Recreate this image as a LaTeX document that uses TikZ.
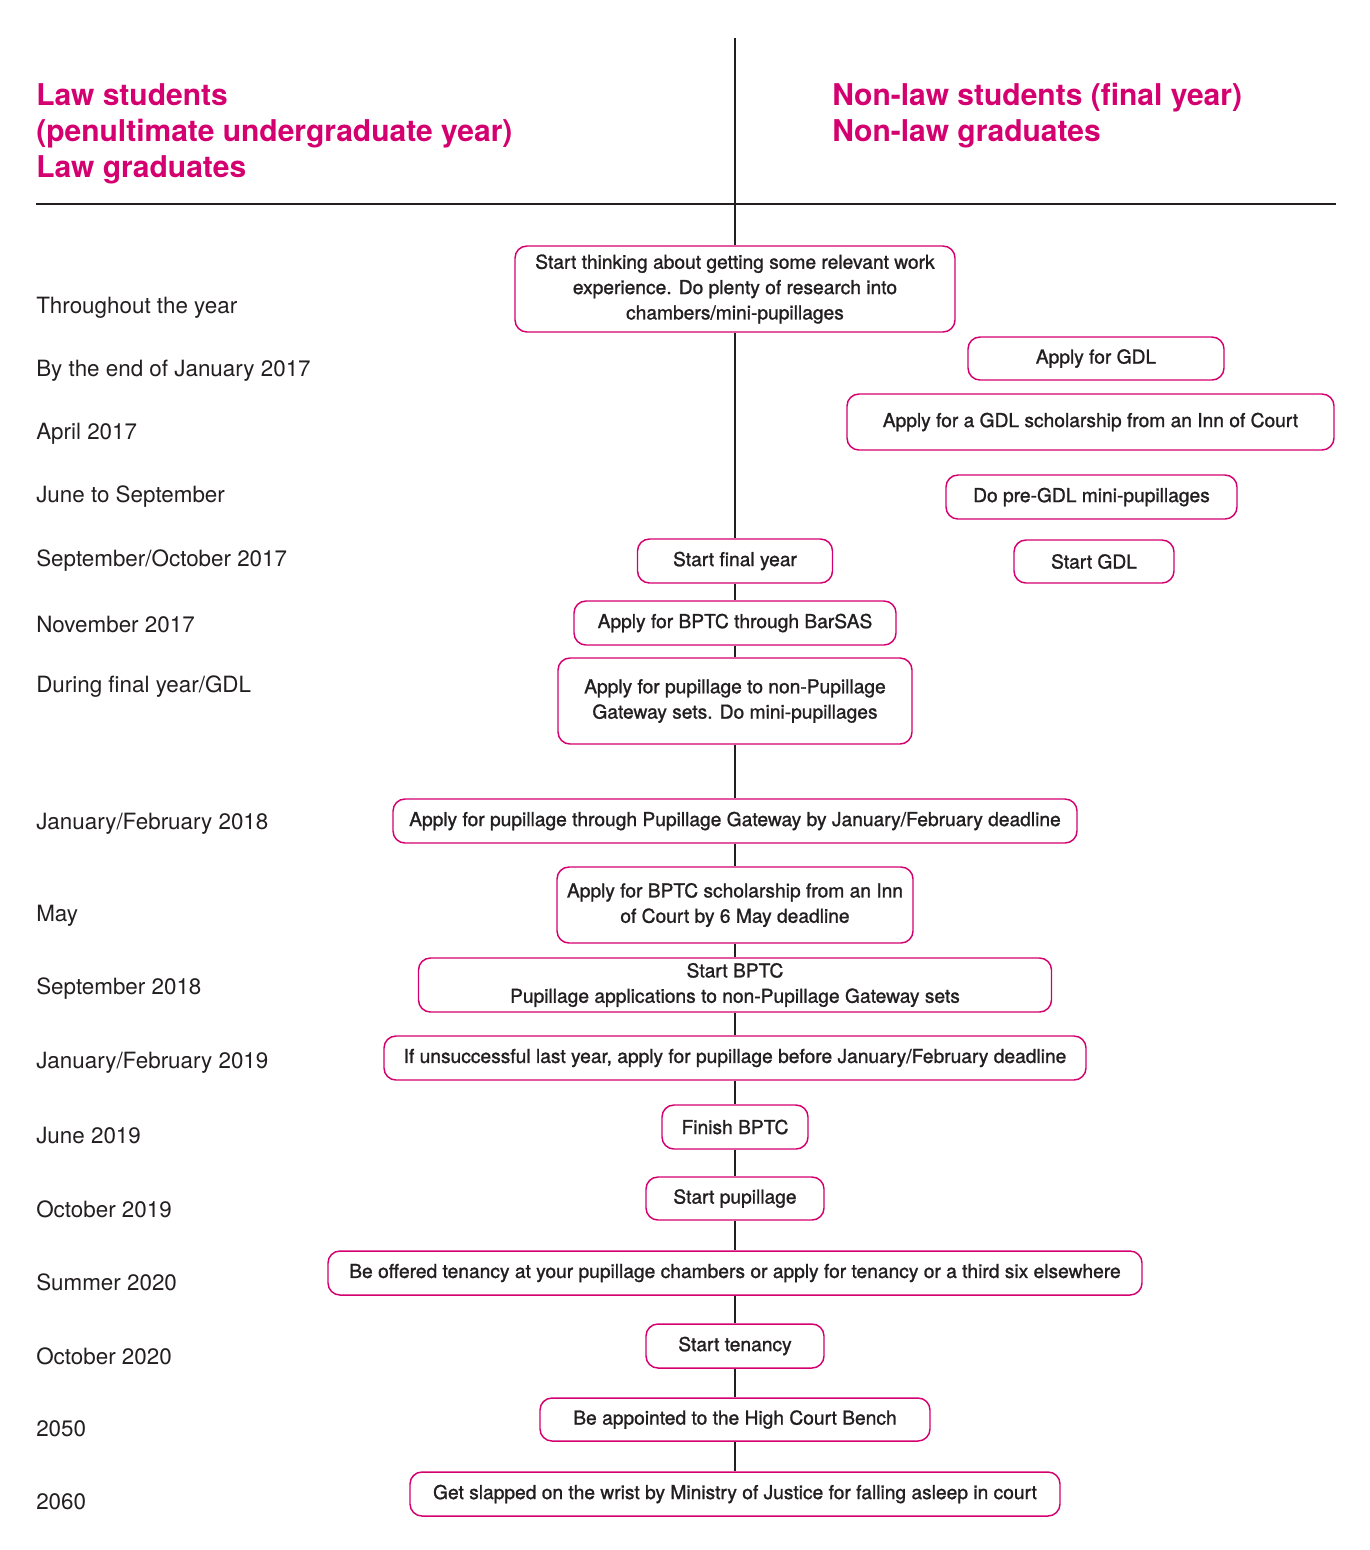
\documentclass[tikz,border=0pt]{standalone}
\usepackage{fontspec}
\setmainfont{TeX Gyre Heros}
\newfontface\boxface{TeX Gyre Heros}[FakeBold=1.2]
\definecolor{lawpink}{RGB}{212,0,112}
\definecolor{inkgrey}{RGB}{35,31,32}
\tikzset{
  stepbox/.style={draw=lawpink, line width=1.1pt, rounded corners=9pt, fill=white,
    align=center, inner sep=0pt, text=inkgrey, font=\boxface\fontsize{14.4}{19}\selectfont},
  yearlabel/.style={anchor=west, inner sep=0pt, text=inkgrey, font=\fontsize{16.8}{20}\selectfont},
  headline/.style={anchor=west, align=left, inner sep=0pt, text=lawpink,
    font=\fontsize{22.5}{27}\selectfont\bfseries},
  spine/.style={draw=inkgrey, line width=0.9pt},
}
\begin{document}
\begin{tikzpicture}[x=0.75pt,y=0.75pt,yscale=-1,xscale=1]
\useasboundingbox (0,0) rectangle (1370,1550);

% Headings
\draw (36,134) node [headline] (lawhead) {Law students\\(penultimate undergraduate year)\\Law graduates};
\draw (832,116) node [headline] (nonlawhead) {Non-law students (final year)\\Non-law graduates};

% Rules
\coordinate (spinetop) at (735,38);
\coordinate (ruleL) at (36,204);
\coordinate (ruleR) at (1336,204);
\draw [spine] (ruleL) -- (ruleR);

% Year labels
\draw (36,308) node [yearlabel] (y1) {Throughout the year};
\draw (36,371) node [yearlabel] (y2) {By the end of January 2017};
\draw (36,434) node [yearlabel] (y3) {April 2017};
\draw (36,497) node [yearlabel] (y4) {June to September};
\draw (36,561) node [yearlabel] (y5) {September/October 2017};
\draw (36,624) node [yearlabel] (y6) {November 2017};
\draw (36,687) node [yearlabel] (y7) {During final year/GDL};
\draw (36,824) node [yearlabel] (y8) {January/February 2018};
\draw (36,916) node [yearlabel] (y9) {May};
\draw (36,989) node [yearlabel] (y10) {September 2018};
\draw (36,1063) node [yearlabel] (y11) {January/February 2019};
\draw (36,1136) node [yearlabel] (y12) {June 2019};
\draw (36,1209) node [yearlabel] (y13) {October 2019};
\draw (36,1282) node [yearlabel] (y14) {Summer 2020};
\draw (36,1356) node [yearlabel] (y15) {October 2020};
\draw (36,1429) node [yearlabel] (y16) {2050};
\draw (36,1502) node [yearlabel] (y17) {2060};

% Law column
\draw (735,289) node [stepbox, minimum width=330pt, minimum height=64.5pt] (think) {Start thinking about getting some relevant work\\experience. Do plenty of research into\\chambers/mini-pupillages};
\draw (735,561) node [stepbox, minimum width=146.25pt, minimum height=33pt] (finalyear) {Start final year};
\draw (735,623) node [stepbox, minimum width=241.5pt, minimum height=33pt] (barsas) {Apply for BPTC through BarSAS};
\draw (735,701) node [stepbox, minimum width=265.5pt, minimum height=64.5pt] (nonpg) {Apply for pupillage to non-Pupillage\\Gateway sets. Do mini-pupillages};
\draw (735,821) node [stepbox, minimum width=513pt, minimum height=33pt] (gateway) {Apply for pupillage through Pupillage Gateway by January/February deadline};
\draw (735,905) node [stepbox, minimum width=267pt, minimum height=57pt] (bptcschol) {Apply for BPTC scholarship from an Inn\\of Court by 6 May deadline};
\draw (735,985) node [stepbox, minimum width=474.75pt, minimum height=40.5pt] (startbptc) {Start BPTC\\Pupillage applications to non-Pupillage Gateway sets};
\draw (735,1058) node [stepbox, minimum width=526.5pt, minimum height=33pt] (retry) {If unsuccessful last year, apply for pupillage before January/February deadline};
\draw (735,1127) node [stepbox, minimum width=109.5pt, minimum height=33pt] (finishbptc) {Finish BPTC};
\draw (735,1198.5) node [stepbox, minimum width=133.5pt, minimum height=32.25pt] (pupillage) {Start pupillage};
\draw (735,1273) node [stepbox, minimum width=610.5pt, minimum height=33pt] (offered) {Be offered tenancy at your pupillage chambers or apply for tenancy or a third six elsewhere};
\draw (735,1346) node [stepbox, minimum width=133.5pt, minimum height=33pt] (tenancy) {Start tenancy};
\draw (735,1419.5) node [stepbox, minimum width=292.5pt, minimum height=32.25pt] (bench) {Be appointed to the High Court Bench};
\draw (735,1494) node [stepbox, minimum width=487.5pt, minimum height=33pt] (slapped) {Get slapped on the wrist by Ministry of Justice for falling asleep in court};

% Non-law column
\draw (1096,358.5) node [stepbox, minimum width=192pt, minimum height=32.25pt] (applygdl) {Apply for GDL};
\draw (1090.5,422) node [stepbox, minimum width=365.25pt, minimum height=42pt] (gdlschol) {Apply for a GDL scholarship from an Inn of Court};
\draw (1091.5,497) node [stepbox, minimum width=218.25pt, minimum height=33pt] (pregdl) {Do pre-GDL mini-pupillages};
\draw (1094,561.5) node [stepbox, minimum width=120pt, minimum height=32.25pt] (startgdl) {Start GDL};

% Spine
\draw [spine] (spinetop) -- (think) -- (finalyear) -- (barsas) -- (nonpg) -- (gateway)
  -- (bptcschol) -- (startbptc) -- (retry) -- (finishbptc) -- (pupillage) -- (offered)
  -- (tenancy) -- (bench) -- (slapped);

\end{tikzpicture}
\end{document}
